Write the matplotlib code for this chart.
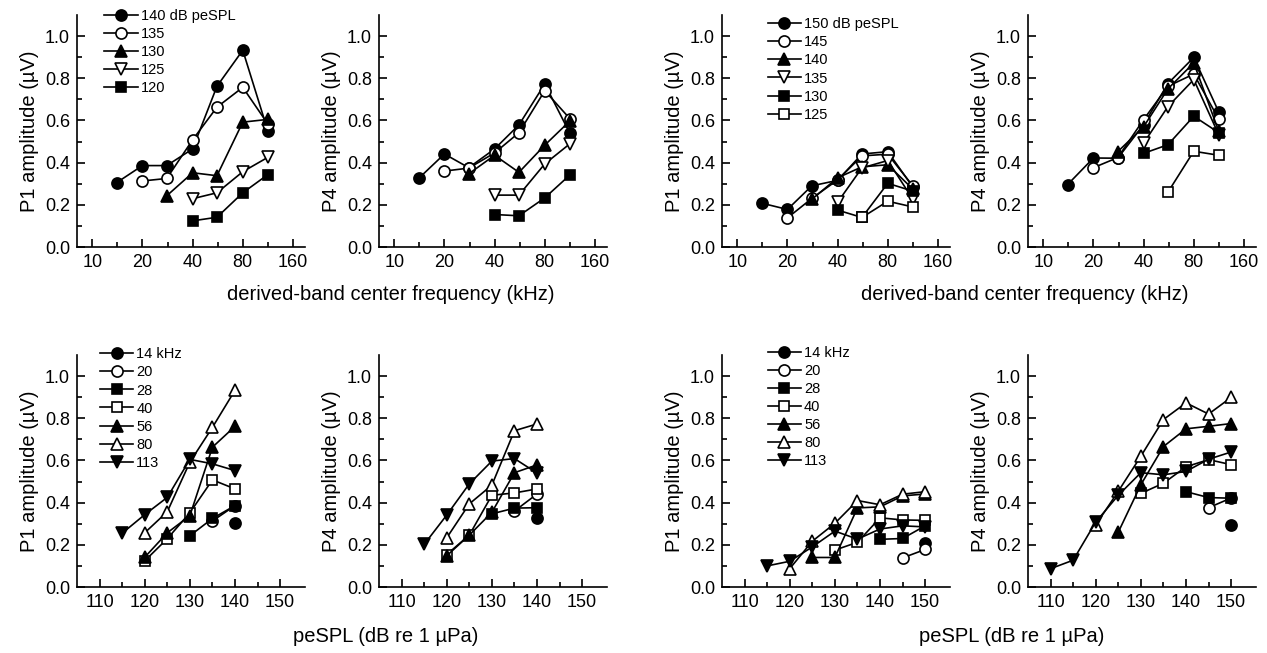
import matplotlib
matplotlib.use("Agg")
import matplotlib.pyplot as plt
import numpy as np

plt.rcParams['font.family'] = ['Liberation Sans', 'DejaVu Sans']

nan = np.nan

# derived-band centre frequencies (kHz)
freqs = [14, 20, 28, 40, 56, 80, 113]

# left group: stimulus levels (dB peSPL), one row per level, one column per frequency
left_levels = [115, 120, 125, 130, 135, 140]
left_p1 = [
    [nan, nan, nan, nan, nan, nan, 0.255],
    [nan, nan, nan, 0.124, 0.141, 0.257, 0.343],
    [nan, nan, nan, 0.229, 0.257, 0.357, 0.425],
    [nan, nan, 0.243, 0.352, 0.338, 0.592, 0.605],
    [nan, 0.313, 0.325, 0.508, 0.663, 0.757, 0.584],
    [0.305, 0.386, 0.386, 0.465, 0.762, 0.933, 0.552],
]
left_p4 = [
    [nan, nan, nan, nan, nan, nan, 0.202],
    [nan, nan, nan, 0.154, 0.148, 0.233, 0.341],
    [nan, nan, nan, 0.246, 0.246, 0.394, 0.489],
    [nan, nan, 0.347, 0.435, 0.354, 0.483, 0.597],
    [nan, 0.36, 0.374, 0.446, 0.542, 0.741, 0.609],
    [0.325, 0.441, 0.376, 0.465, 0.579, 0.773, 0.54],
]

# right group
right_levels = [110, 115, 120, 125, 130, 135, 140, 145, 150]
right_p1 = [
    [nan, nan, nan, nan, nan, nan, nan],
    [nan, nan, nan, nan, nan, nan, 0.10],
    [nan, nan, nan, nan, nan, 0.087, 0.122],
    [nan, nan, nan, nan, 0.14, 0.217, 0.19],
    [nan, nan, nan, 0.175, 0.14, 0.302, 0.265],
    [nan, nan, nan, 0.212, 0.375, 0.41, 0.227],
    [nan, nan, 0.226, 0.328, 0.38, 0.39, 0.275],
    [nan, 0.138, 0.23, 0.318, 0.432, 0.44, 0.29],
    [0.208, 0.178, 0.29, 0.316, 0.441, 0.452, 0.285],
]
right_p4 = [
    [nan, nan, nan, nan, nan, nan, 0.087],
    [nan, nan, nan, nan, nan, nan, 0.127],
    [nan, nan, nan, nan, nan, 0.294, 0.308],
    [nan, nan, nan, nan, 0.26, 0.454, 0.435],
    [nan, nan, nan, 0.444, 0.485, 0.62, 0.542],
    [nan, nan, nan, 0.492, 0.666, 0.794, 0.532],
    [nan, nan, 0.452, 0.57, 0.75, 0.873, 0.548],
    [nan, 0.376, 0.424, 0.604, 0.762, 0.82, 0.606],
    [0.296, 0.422, 0.421, 0.58, 0.775, 0.899, 0.64],
]

# which levels are drawn in the frequency panels
left_top_levels = [140, 135, 130, 125, 120]
right_top_levels = [150, 145, 140, 135, 130, 125]

# marker styles: (marker, filled)
left_level_styles = [('o', True), ('o', False), ('^', True), ('v', False), ('s', True)]
right_level_styles = [('o', True), ('o', False), ('^', True), ('v', False), ('s', True), ('s', False)]
freq_styles = [('o', True), ('o', False), ('s', True), ('s', False), ('^', True), ('^', False), ('v', True)]

W, H = 1267, 653
fig = plt.figure(figsize=(W / 100, H / 100), dpi=100)

lefts = [77, 379, 722, 1028]
aw = 228 / W
ah = 232 / H
top_b = (H - 247) / H
bot_b = (H - 587) / H


def msize(m):
    return 6.8 if m == 's' else 8


def style_axes(ax, ylabel):
    ax.spines['top'].set_visible(False)
    ax.spines['right'].set_visible(False)
    for s in ('left', 'bottom'):
        ax.spines[s].set_linewidth(1.2)
    ax.set_ylim(0, 1.1)
    ax.set_yticks([0, 0.2, 0.4, 0.6, 0.8, 1.0])
    ax.set_yticks(np.arange(0.1, 1.1, 0.2), minor=True)
    ax.yaxis.set_major_formatter(matplotlib.ticker.FormatStrFormatter('%.1f'))
    ax.tick_params(which='major', direction='in', length=6, width=1.2, labelsize=13, pad=5)
    ax.tick_params(which='minor', direction='in', length=3.5, width=1.2)
    ax.set_ylabel(ylabel, fontsize=14.5, labelpad=4)


def draw(ax, x, ys, labels, styles):
    for y, lab, (m, filled) in zip(ys, labels, styles):
        ax.plot(x, y, color='black', lw=1.2, marker=m, ms=msize(m),
                mfc='black' if filled else 'white', mec='black', mew=1.2,
                label=lab)


def add_legend(ax, anchor):
    ax.legend(loc='upper left', bbox_to_anchor=anchor, frameon=False,
              fontsize=10.5, handlelength=2.3, handletextpad=0.2,
              labelspacing=0.28, borderpad=0, borderaxespad=0)


def freq_panel(ax, levels, data, shown, styles, ylabel, leg_anchor=None):
    rows = [data[levels.index(lv)] for lv in shown]
    labels = [f"{shown[0]} dB peSPL"] + [str(lv) for lv in shown[1:]]
    draw(ax, freqs, rows, labels, styles)
    ax.set_xscale('log', base=2)
    ax.set_xlim(8.1, 189)
    majors = [10, 20, 40, 80, 160]
    ax.set_xticks(majors)
    ax.set_xticklabels([str(v) for v in majors])
    ax.set_xticks([v * np.sqrt(2) for v in majors[:-1]], minor=True)
    ax.xaxis.set_minor_formatter(matplotlib.ticker.NullFormatter())
    style_axes(ax, ylabel)
    if leg_anchor is not None:
        add_legend(ax, leg_anchor)


def level_panel(ax, levels, data, ylabel, leg_anchor=None):
    arr = np.array(data)
    cols = [arr[:, j] for j in range(len(freqs))]
    labels = ["14 kHz"] + [str(f) for f in freqs[1:]]
    draw(ax, levels, cols, labels, freq_styles)
    ax.set_xlim(105, 155.5)
    ax.set_xticks([110, 120, 130, 140, 150])
    ax.set_xticks([115, 125, 135, 145], minor=True)
    style_axes(ax, ylabel)
    if leg_anchor is not None:
        add_legend(ax, leg_anchor)


ax1 = fig.add_axes([lefts[0] / W, top_b, aw, ah])
ax2 = fig.add_axes([lefts[1] / W, top_b, aw, ah])
ax3 = fig.add_axes([lefts[2] / W, top_b, aw, ah])
ax4 = fig.add_axes([lefts[3] / W, top_b, aw, ah])
ax5 = fig.add_axes([lefts[0] / W, bot_b, aw, ah])
ax6 = fig.add_axes([lefts[1] / W, bot_b, aw, ah])
ax7 = fig.add_axes([lefts[2] / W, bot_b, aw, ah])
ax8 = fig.add_axes([lefts[3] / W, bot_b, aw, ah])

freq_panel(ax1, left_levels, left_p1, left_top_levels, left_level_styles,
           "P1 amplitude (µV)", (0.12, 1.027))
freq_panel(ax2, left_levels, left_p4, left_top_levels, left_level_styles,
           "P4 amplitude (µV)")
freq_panel(ax3, right_levels, right_p1, right_top_levels, right_level_styles,
           "P1 amplitude (µV)", (0.2, 0.99))
freq_panel(ax4, right_levels, right_p4, right_top_levels, right_level_styles,
           "P4 amplitude (µV)")

level_panel(ax5, left_levels, left_p1, "P1 amplitude (µV)", (0.1, 1.033))
level_panel(ax6, left_levels, left_p4, "P4 amplitude (µV)")
level_panel(ax7, right_levels, right_p1, "P1 amplitude (µV)", (0.2, 1.04))
level_panel(ax8, right_levels, right_p4, "P4 amplitude (µV)")

fig.text(391 / W, 1 - 295 / H, "derived-band center frequency (kHz)",
         ha='center', va='center', fontsize=14.5)
fig.text(1025 / W, 1 - 295 / H, "derived-band center frequency (kHz)",
         ha='center', va='center', fontsize=14.5)
fig.text(386 / W, 1 - 636 / H, "peSPL (dB re 1 µPa)",
         ha='center', va='center', fontsize=14.5)
fig.text(1012 / W, 1 - 636 / H, "peSPL (dB re 1 µPa)",
         ha='center', va='center', fontsize=14.5)

fig.savefig("out.png", dpi=100)
